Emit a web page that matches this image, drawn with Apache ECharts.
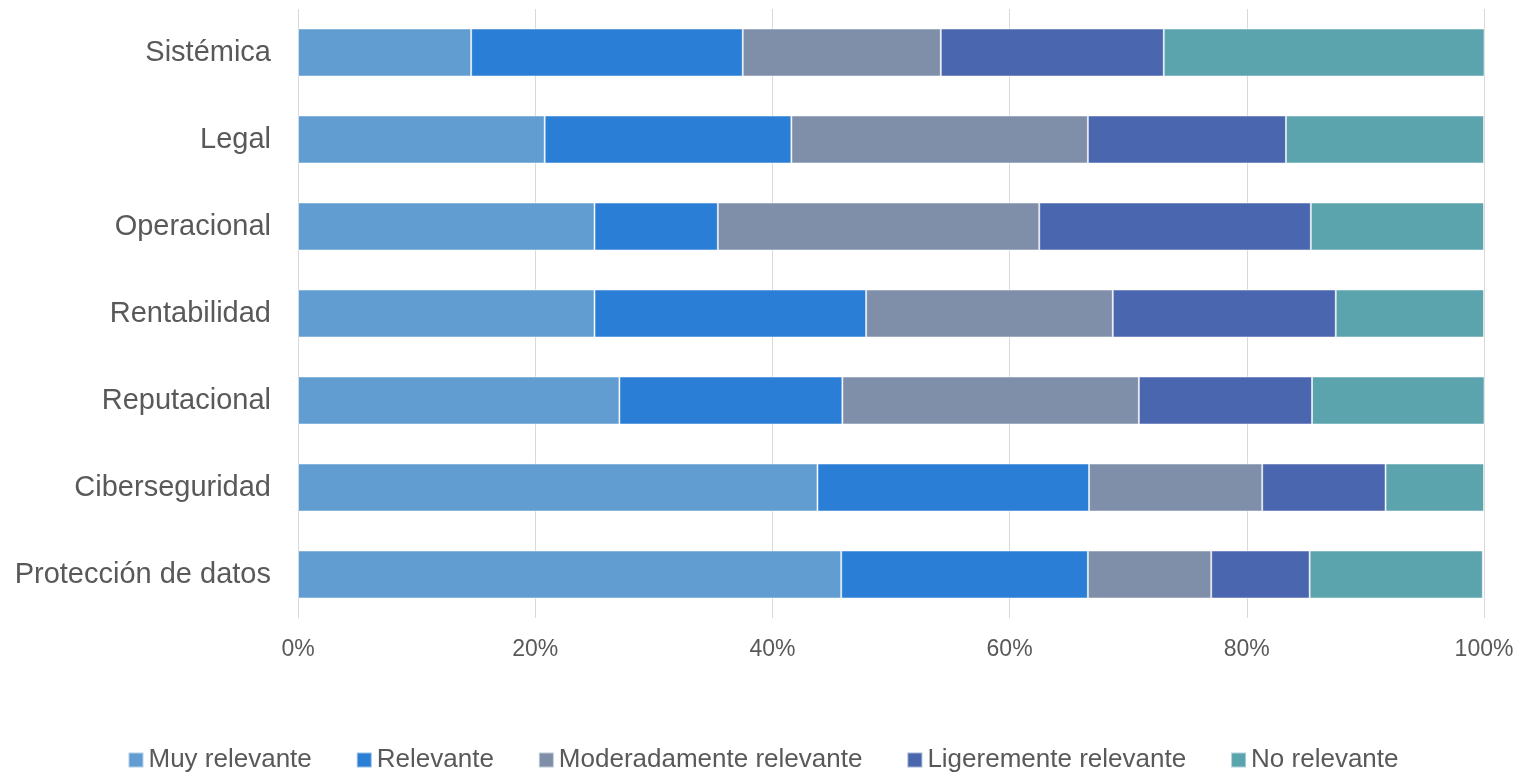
<!DOCTYPE html>
<html>
<head>
<meta charset="utf-8">
<script src="https://cdn.jsdelivr.net/npm/echarts@6/dist/echarts.min.js"></script>
<style>
  html, body { margin: 0; padding: 0; background: #fff; }
  #chart { width: 1526px; height: 774px; }
</style>
</head>
<body>
<div id="chart"></div>
<script>
// categorias (de abajo a arriba, como las pinta el eje de categorias)
const categories = ['Protección de datos', 'Ciberseguridad', 'Reputacional', 'Rentabilidad', 'Operacional', 'Legal', 'Sistémica'];

// porcentajes
const muyRelevante      = [45.8, 43.8, 27.1, 25.0, 25.0, 20.8, 14.6];
const relevante         = [20.8, 22.9, 18.8, 22.9, 10.4, 20.8, 22.9];
const moderadamente     = [10.4, 14.6, 25.0, 20.8, 27.1, 25.0, 16.7];
const ligeramente       = [ 8.3, 10.4, 14.6, 18.8, 22.9, 16.7, 18.8];
const noRelevante       = [14.6,  8.3, 14.6, 12.5, 14.6, 16.7, 27.1];

const seriesNames = ['Muy relevante', 'Relevante', 'Moderadamente relevante', 'Ligeremente relevante', 'No relevante'];
const seriesData = [muyRelevante, relevante, moderadamente, ligeramente, noRelevante];
const colors = ['#619DD1', '#2B7ED6', '#7F8FA9', '#4A66AF', '#5BA3AD'];

const font = 'Liberation Sans, Arial, sans-serif';

const myChart = echarts.init(document.getElementById('chart'));
myChart.setOption({
  animation: false,
  color: colors,
  grid: {
    left: 298,
    right: 42,
    top: 9,
    bottom: 156
  },
  legend: {
    bottom: -4,
    left: 'center',
    itemWidth: 15,
    itemHeight: 15,
    itemGap: 44,
    icon: 'rect',
    textStyle: { fontFamily: font, fontSize: 26, color: '#595959' },
    data: seriesNames
  },
  xAxis: {
    type: 'value',
    min: 0,
    max: 100,
    interval: 20,
    axisLine: { show: false },
    axisTick: { show: false },
    axisLabel: {
      formatter: '{value}%',
      fontFamily: font,
      fontSize: 23,
      color: '#595959',
      margin: 20
    },
    splitLine: { lineStyle: { color: '#d9d9d9', width: 1 } }
  },
  yAxis: {
    type: 'category',
    data: categories,
    axisLine: { show: false },
    axisTick: { show: false },
    axisLabel: {
      fontFamily: font,
      fontSize: 29,
      color: '#595959',
      margin: 27,
      padding: [5, 0, 0, 0]
    }
  },
  series: seriesNames.map((name, i) => ({
    name: name,
    type: 'bar',
    stack: 'total',
    barWidth: 48,
    data: seriesData[i],
    itemStyle: {
      borderColor: 'rgba(255,255,255,0.5)',
      borderWidth: 1
    }
  }))
});
</script>
</body>
</html>
